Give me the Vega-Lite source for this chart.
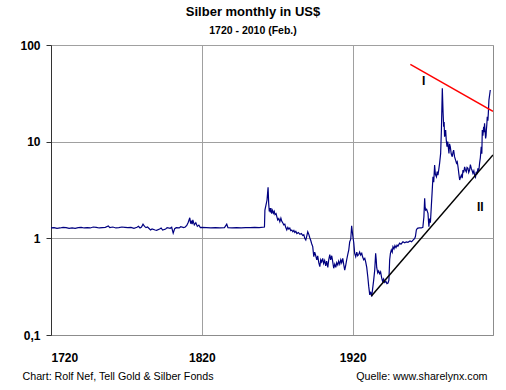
{
  "$schema": "https://vega.github.io/schema/vega-lite/v6.json",
  "width": 442,
  "height": 290,
  "autosize": "none",
  "padding": {"left": 51, "top": 45, "right": 13, "bottom": 55},
  "background": "white",
  "title": {
    "text": "Silber monthly in US$",
    "subtitle": "1720  - 2010 (Feb.)",
    "anchor": "middle",
    "dx": -19,
    "font": "Liberation Sans",
    "fontSize": 13,
    "fontWeight": "bold",
    "color": "black",
    "subtitleFont": "Liberation Sans",
    "subtitleFontSize": 10.5,
    "subtitleFontWeight": "bold",
    "subtitleColor": "black",
    "subtitlePadding": 7,
    "offset": 3
  },
  "config": {
    "font": "Liberation Sans",
    "view": {"stroke": "#8c8c8c", "strokeWidth": 1}
  },
  "datasets": {
    "silver": [
      {"year": 1720, "value": 1.28}, {"year": 1722, "value": 1.29}, {"year": 1724, "value": 1.27},
      {"year": 1726, "value": 1.28}, {"year": 1728, "value": 1.3}, {"year": 1730, "value": 1.29},
      {"year": 1732, "value": 1.27}, {"year": 1734, "value": 1.28}, {"year": 1736, "value": 1.27},
      {"year": 1738, "value": 1.29}, {"year": 1740, "value": 1.3}, {"year": 1742, "value": 1.28},
      {"year": 1744, "value": 1.29}, {"year": 1746, "value": 1.28}, {"year": 1748, "value": 1.31},
      {"year": 1750, "value": 1.3}, {"year": 1752, "value": 1.28}, {"year": 1754, "value": 1.29},
      {"year": 1756, "value": 1.3}, {"year": 1758, "value": 1.34}, {"year": 1759, "value": 1.29},
      {"year": 1761, "value": 1.31}, {"year": 1763, "value": 1.28}, {"year": 1765, "value": 1.29},
      {"year": 1767, "value": 1.31}, {"year": 1769, "value": 1.3}, {"year": 1771, "value": 1.29},
      {"year": 1773, "value": 1.3}, {"year": 1775, "value": 1.27}, {"year": 1777, "value": 1.3},
      {"year": 1778, "value": 1.33}, {"year": 1779, "value": 1.28}, {"year": 1780, "value": 1.31},
      {"year": 1781, "value": 1.4}, {"year": 1782, "value": 1.33}, {"year": 1783, "value": 1.29},
      {"year": 1784, "value": 1.31}, {"year": 1786, "value": 1.22}, {"year": 1787, "value": 1.25},
      {"year": 1789, "value": 1.22}, {"year": 1790, "value": 1.21}, {"year": 1792, "value": 1.25},
      {"year": 1793, "value": 1.28}, {"year": 1794, "value": 1.22}, {"year": 1796, "value": 1.25},
      {"year": 1797, "value": 1.29}, {"year": 1799, "value": 1.27}, {"year": 1800, "value": 1.3},
      {"year": 1801, "value": 1.13}, {"year": 1802, "value": 1.26}, {"year": 1803, "value": 1.29},
      {"year": 1805, "value": 1.28}, {"year": 1806, "value": 1.32}, {"year": 1808, "value": 1.29},
      {"year": 1809, "value": 1.31}, {"year": 1810, "value": 1.36}, {"year": 1811, "value": 1.47},
      {"year": 1812, "value": 1.63}, {"year": 1812.6, "value": 1.42}, {"year": 1813, "value": 1.52},
      {"year": 1813.6, "value": 1.4}, {"year": 1814, "value": 1.55}, {"year": 1815, "value": 1.38},
      {"year": 1816, "value": 1.45}, {"year": 1817, "value": 1.33}, {"year": 1818, "value": 1.37},
      {"year": 1819, "value": 1.29}, {"year": 1820, "value": 1.3}, {"year": 1823, "value": 1.29},
      {"year": 1826, "value": 1.28}, {"year": 1829, "value": 1.29}, {"year": 1832, "value": 1.28},
      {"year": 1835, "value": 1.29}, {"year": 1836.5, "value": 1.4}, {"year": 1837.3, "value": 1.29},
      {"year": 1840, "value": 1.28}, {"year": 1843, "value": 1.29}, {"year": 1846, "value": 1.28},
      {"year": 1849, "value": 1.29}, {"year": 1852, "value": 1.29}, {"year": 1855, "value": 1.3},
      {"year": 1858, "value": 1.29}, {"year": 1861.5, "value": 1.31},
      {"year": 1861.8, "value": 1.96}, {"year": 1862.5, "value": 2.2}, {"year": 1863.2, "value": 2.49},
      {"year": 1863.9, "value": 3.37}, {"year": 1864.3, "value": 2.3}, {"year": 1864.7, "value": 1.9},
      {"year": 1865, "value": 2.05}, {"year": 1865.4, "value": 1.85}, {"year": 1865.8, "value": 2.06},
      {"year": 1866.3, "value": 1.8}, {"year": 1866.9, "value": 1.95}, {"year": 1867.5, "value": 1.82},
      {"year": 1868, "value": 1.9}, {"year": 1868.5, "value": 1.76}, {"year": 1869.2, "value": 1.8},
      {"year": 1869.7, "value": 1.68}, {"year": 1870.3, "value": 1.55}, {"year": 1871, "value": 1.6},
      {"year": 1871.7, "value": 1.485}, {"year": 1872.4, "value": 1.62}, {"year": 1873, "value": 1.5},
      {"year": 1873.7, "value": 1.44}, {"year": 1874.3, "value": 1.38}, {"year": 1875, "value": 1.4},
      {"year": 1875.6, "value": 1.3}, {"year": 1876.3, "value": 1.22}, {"year": 1877, "value": 1.3},
      {"year": 1877.6, "value": 1.25}, {"year": 1878.3, "value": 1.28}, {"year": 1878.9, "value": 1.2},
      {"year": 1879.6, "value": 1.22}, {"year": 1880.3, "value": 1.17}, {"year": 1881, "value": 1.21},
      {"year": 1881.6, "value": 1.15}, {"year": 1882.3, "value": 1.18}, {"year": 1883, "value": 1.12},
      {"year": 1884, "value": 1.15}, {"year": 1885, "value": 1.1}, {"year": 1886, "value": 1.12},
      {"year": 1886.9, "value": 1.07}, {"year": 1887.6, "value": 1.09}, {"year": 1888.2, "value": 1.0},
      {"year": 1888.9, "value": 0.96}, {"year": 1889.5, "value": 1.05}, {"year": 1890.2, "value": 1.17},
      {"year": 1890.9, "value": 1.1}, {"year": 1891.5, "value": 1.02}, {"year": 1892.2, "value": 0.95},
      {"year": 1892.8, "value": 0.88}, {"year": 1893.5, "value": 0.82}, {"year": 1894.2, "value": 0.645},
      {"year": 1894.8, "value": 0.72}, {"year": 1895.5, "value": 0.66}, {"year": 1896.2, "value": 0.6},
      {"year": 1896.8, "value": 0.66}, {"year": 1897.5, "value": 0.56}, {"year": 1898.2, "value": 0.51},
      {"year": 1898.8, "value": 0.6}, {"year": 1899.4, "value": 0.57}, {"year": 1900.1, "value": 0.62},
      {"year": 1900.7, "value": 0.55}, {"year": 1901.4, "value": 0.59}, {"year": 1902.1, "value": 0.52},
      {"year": 1902.7, "value": 0.58}, {"year": 1903.5, "value": 0.5}, {"year": 1904.1, "value": 0.6},
      {"year": 1904.8, "value": 0.68}, {"year": 1905.4, "value": 0.6}, {"year": 1906.1, "value": 0.66},
      {"year": 1906.7, "value": 0.58}, {"year": 1907.4, "value": 0.49}, {"year": 1908.1, "value": 0.54},
      {"year": 1908.8, "value": 0.5}, {"year": 1909.4, "value": 0.56}, {"year": 1910.1, "value": 0.53},
      {"year": 1910.7, "value": 0.58}, {"year": 1911.4, "value": 0.54}, {"year": 1912.1, "value": 0.6},
      {"year": 1912.7, "value": 0.56}, {"year": 1913.4, "value": 0.62}, {"year": 1914, "value": 0.54},
      {"year": 1914.7, "value": 0.47}, {"year": 1915.3, "value": 0.52}, {"year": 1916, "value": 0.6},
      {"year": 1916.7, "value": 0.68}, {"year": 1917.4, "value": 0.76}, {"year": 1918, "value": 0.92},
      {"year": 1918.7, "value": 0.98}, {"year": 1919.3, "value": 1.35}, {"year": 1919.8, "value": 1.15},
      {"year": 1920.2, "value": 1.02}, {"year": 1920.7, "value": 0.9}, {"year": 1921.3, "value": 0.7},
      {"year": 1922, "value": 0.645}, {"year": 1922.7, "value": 0.72}, {"year": 1923.3, "value": 0.66},
      {"year": 1924, "value": 0.68}, {"year": 1924.6, "value": 0.72}, {"year": 1925.3, "value": 0.67},
      {"year": 1926, "value": 0.7}, {"year": 1926.6, "value": 0.64}, {"year": 1927.3, "value": 0.6},
      {"year": 1928, "value": 0.62}, {"year": 1928.6, "value": 0.57}, {"year": 1929.3, "value": 0.5},
      {"year": 1930, "value": 0.4}, {"year": 1930.6, "value": 0.32}, {"year": 1931.3, "value": 0.26},
      {"year": 1931.9, "value": 0.28}, {"year": 1932.6, "value": 0.25}, {"year": 1933.2, "value": 0.3},
      {"year": 1933.9, "value": 0.37}, {"year": 1934.6, "value": 0.47}, {"year": 1935.2, "value": 0.7},
      {"year": 1935.6, "value": 0.6}, {"year": 1935.9, "value": 0.5}, {"year": 1936.6, "value": 0.44},
      {"year": 1937.2, "value": 0.46}, {"year": 1937.9, "value": 0.43}, {"year": 1938.5, "value": 0.45},
      {"year": 1939.2, "value": 0.39}, {"year": 1939.8, "value": 0.36}, {"year": 1940.5, "value": 0.38},
      {"year": 1941.2, "value": 0.35}, {"year": 1942, "value": 0.36}, {"year": 1942.7, "value": 0.34},
      {"year": 1943.4, "value": 0.345}, {"year": 1944, "value": 0.37}, {"year": 1944.5, "value": 0.6},
      {"year": 1945, "value": 0.7}, {"year": 1945.6, "value": 0.76}, {"year": 1946.2, "value": 0.72},
      {"year": 1946.7, "value": 0.82}, {"year": 1947.4, "value": 0.78}, {"year": 1948, "value": 0.84},
      {"year": 1948.7, "value": 0.8}, {"year": 1949.4, "value": 0.85}, {"year": 1950, "value": 0.83},
      {"year": 1951.1, "value": 0.89}, {"year": 1952, "value": 0.87}, {"year": 1953.3, "value": 0.92},
      {"year": 1954.5, "value": 0.9}, {"year": 1955.5, "value": 0.92}, {"year": 1956.6, "value": 0.91},
      {"year": 1958, "value": 0.94}, {"year": 1959, "value": 0.92}, {"year": 1960, "value": 0.96},
      {"year": 1961.1, "value": 1.0}, {"year": 1961.6, "value": 1.05}, {"year": 1962.2, "value": 1.22},
      {"year": 1962.9, "value": 1.27}, {"year": 1964, "value": 1.28}, {"year": 1965.5, "value": 1.28},
      {"year": 1966.5, "value": 1.3}, {"year": 1967.2, "value": 1.67}, {"year": 1967.7, "value": 2.59},
      {"year": 1968, "value": 2.1}, {"year": 1968.3, "value": 1.96}, {"year": 1969, "value": 2.0},
      {"year": 1969.9, "value": 1.81}, {"year": 1970.5, "value": 1.32}, {"year": 1971, "value": 1.6},
      {"year": 1971.5, "value": 1.45}, {"year": 1972.1, "value": 2.12}, {"year": 1972.6, "value": 2.92},
      {"year": 1973.2, "value": 4.34}, {"year": 1973.7, "value": 3.8}, {"year": 1974.3, "value": 5.73},
      {"year": 1974.8, "value": 4.6}, {"year": 1975.5, "value": 4.34}, {"year": 1976, "value": 4.9},
      {"year": 1976.5, "value": 4.5}, {"year": 1977, "value": 5.08}, {"year": 1977.6, "value": 5.96},
      {"year": 1978.3, "value": 7.57}, {"year": 1978.8, "value": 13.18}, {"year": 1979.4, "value": 35.6},
      {"year": 1979.9, "value": 20}, {"year": 1980.3, "value": 14.26}, {"year": 1980.6, "value": 16},
      {"year": 1980.9, "value": 11.24}, {"year": 1981.3, "value": 12.5}, {"year": 1981.6, "value": 13.18},
      {"year": 1982, "value": 10.5}, {"year": 1982.5, "value": 8.86}, {"year": 1983, "value": 10},
      {"year": 1983.8, "value": 7.57}, {"year": 1984.2, "value": 9.5}, {"year": 1984.7, "value": 8.86},
      {"year": 1985.3, "value": 7.5}, {"year": 1986, "value": 6.98}, {"year": 1986.5, "value": 7.8},
      {"year": 1986.9, "value": 8.19}, {"year": 1987.5, "value": 7.0}, {"year": 1988.2, "value": 6.45},
      {"year": 1988.8, "value": 6.0}, {"year": 1989.3, "value": 6.2}, {"year": 1989.8, "value": 5.5},
      {"year": 1990.4, "value": 4.6}, {"year": 1990.9, "value": 4.01}, {"year": 1991.5, "value": 4.3},
      {"year": 1992, "value": 4.51}, {"year": 1992.6, "value": 4.2}, {"year": 1993.1, "value": 5.08},
      {"year": 1993.6, "value": 4.8}, {"year": 1994.2, "value": 5.5}, {"year": 1994.7, "value": 5.1},
      {"year": 1995.3, "value": 4.88}, {"year": 1995.8, "value": 5.4}, {"year": 1996.4, "value": 5.29},
      {"year": 1996.9, "value": 4.8}, {"year": 1997.5, "value": 5.08}, {"year": 1998, "value": 5.8},
      {"year": 1998.6, "value": 5.29}, {"year": 1999.2, "value": 5.0}, {"year": 1999.7, "value": 4.7},
      {"year": 2000.3, "value": 5.0}, {"year": 2000.8, "value": 4.51}, {"year": 2001.4, "value": 4.3},
      {"year": 2001.9, "value": 4.88}, {"year": 2002.5, "value": 4.6}, {"year": 2003, "value": 5.29},
      {"year": 2003.6, "value": 5.0}, {"year": 2004.1, "value": 5.96}, {"year": 2004.6, "value": 6.8},
      {"year": 2005.2, "value": 8.86}, {"year": 2005.6, "value": 7.5}, {"year": 2005.9, "value": 13.18},
      {"year": 2006.3, "value": 11.5}, {"year": 2006.8, "value": 14.26}, {"year": 2007.1, "value": 12.5},
      {"year": 2007.4, "value": 15.46}, {"year": 2007.8, "value": 12.5}, {"year": 2008.1, "value": 10.82},
      {"year": 2008.4, "value": 11.5}, {"year": 2008.6, "value": 13.18}, {"year": 2008.9, "value": 15},
      {"year": 2009.2, "value": 18.09}, {"year": 2009.6, "value": 16.5}, {"year": 2009.9, "value": 19.63},
      {"year": 2010.3, "value": 26.9}, {"year": 2011.2, "value": 34.2}
    ],
    "trend": [
      {"line": "I", "year": 1958.2, "value": 63},
      {"line": "I", "year": 2013, "value": 20.6},
      {"line": "II", "year": 1932.4, "value": 0.253},
      {"line": "II", "year": 2013, "value": 7.3}
    ],
    "labels": [
      {"label": "I", "year": 1967, "value": 42.7},
      {"label": "II", "year": 2004.6, "value": 2.12}
    ]
  },
  "resolve": {"axis": {"x": "independent", "y": "independent"}},
  "layer": [
    {
      "data": {"name": "silver"},
      "mark": {"type": "line", "color": "#000080", "strokeWidth": 1.2, "clip": true},
      "encoding": {
        "x": {
          "field": "year", "type": "quantitative",
          "scale": {"domain": [1720, 2013], "nice": false, "zero": false},
          "axis": {
            "values": [1720, 1820, 1920],
            "format": "d",
            "grid": true, "gridColor": "#a0a0a0", "gridWidth": 1,
            "ticks": false, "tickSize": 0,
            "domain": true, "domainColor": "#8c8c8c",
            "labelFont": "Liberation Sans", "labelFontSize": 12, "labelFontWeight": "bold",
            "labelColor": "black", "labelPadding": 17,
            "title": "Chart: Rolf Nef, Tell Gold & Silber Fonds",
            "titleFont": "Liberation Sans", "titleFontSize": 10.7, "titleFontWeight": "normal",
            "titleColor": "black", "titleAnchor": "start", "titleAlign": "left",
            "titleBaseline": "alphabetic", "titleX": -29, "titleY": 44
          }
        },
        "y": {
          "field": "value", "type": "quantitative",
          "scale": {"type": "log", "domain": [0.1, 100], "nice": false},
          "axis": {
            "values": [0.1, 1, 10, 100],
            "labelExpr": "datum.value < 0.5 ? '0,1' : format(datum.value, 'd')",
            "grid": true, "gridColor": "#a0a0a0", "gridWidth": 1,
            "ticks": true, "tickSize": 5, "tickColor": "#333333",
            "domain": true, "domainColor": "#333333",
            "labelFont": "Liberation Sans", "labelFontSize": 12, "labelFontWeight": "bold",
            "labelColor": "black", "labelPadding": 6,
            "title": null
          }
        }
      }
    },
    {
      "data": {"name": "trend"},
      "mark": {"type": "line", "strokeWidth": 1.5, "clip": true},
      "encoding": {
        "x": {
          "field": "year", "type": "quantitative",
          "scale": {"domain": [1720, 2013], "nice": false, "zero": false},
          "axis": {
            "orient": "bottom",
            "grid": false, "ticks": false, "labels": false, "domain": false,
            "title": "Quelle: www.sharelynx.com",
            "titleFont": "Liberation Sans", "titleFontSize": 10.7, "titleFontWeight": "normal",
            "titleColor": "black", "titleAnchor": "end", "titleAlign": "right",
            "titleBaseline": "alphabetic", "titleX": 436, "titleY": 44
          }
        },
        "y": {
          "field": "value", "type": "quantitative",
          "scale": {"type": "log", "domain": [0.1, 100], "nice": false},
          "axis": null
        },
        "detail": {"field": "line"},
        "color": {
          "field": "line", "type": "nominal",
          "scale": {"domain": ["I", "II"], "range": ["#ff0000", "#000000"]},
          "legend": null
        }
      }
    },
    {
      "data": {"name": "labels"},
      "mark": {"type": "text", "font": "Liberation Sans", "fontSize": 12, "fontWeight": "bold", "color": "black"},
      "encoding": {
        "x": {"field": "year", "type": "quantitative", "scale": {"domain": [1720, 2013], "nice": false, "zero": false}, "axis": null},
        "y": {"field": "value", "type": "quantitative", "scale": {"type": "log", "domain": [0.1, 100], "nice": false}, "axis": null},
        "text": {"field": "label"}
      }
    }
  ]
}
